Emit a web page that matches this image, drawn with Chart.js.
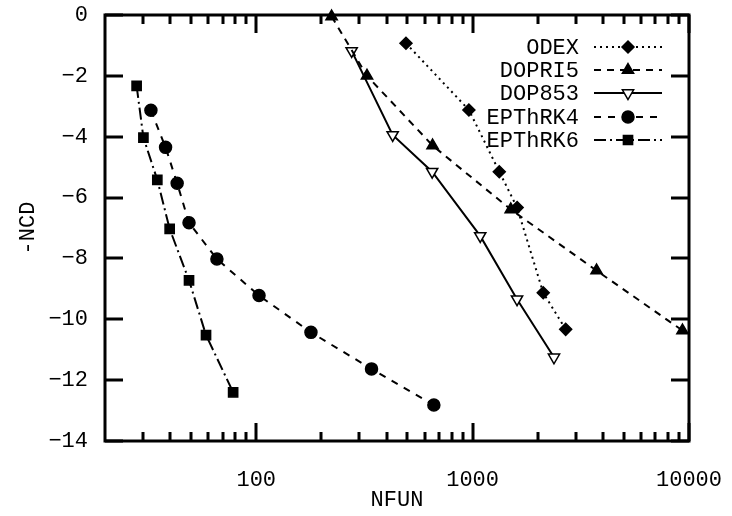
<!DOCTYPE html>
<html>
<head>
<meta charset="utf-8">
<script src="https://cdn.jsdelivr.net/npm/chart.js@4/dist/chart.umd.min.js"></script>
<style>
html,body{margin:0;padding:0;background:#fff;}
#wrap{width:732px;height:516px;}
</style>
</head>
<body>
<div id="wrap"><canvas id="c" width="732" height="516"></canvas></div>
<script>
// ---- data ----
const seriesNames = ['ODEX', 'DOPRI5', 'DOP853', 'EPThRK4', 'EPThRK6'];
const odexX   = [492, 961, 1328, 1606, 2120, 2692];
const odexY   = [-0.93, -3.12, -5.15, -6.33, -9.13, -10.33];
const dopri5X = [223, 325, 653, 1500, 3740, 9330];
const dopri5Y = [-0.05, -2.0, -4.29, -6.39, -8.4, -10.37];
const dop853X = [276, 427, 650, 1084, 1604, 2377];
const dop853Y = [-1.18, -3.94, -5.15, -7.26, -9.34, -11.25];
const rk4X    = [32.6, 38.1, 43.1, 48.9, 65.8, 103, 179, 341, 662];
const rk4Y    = [-3.13, -4.35, -5.53, -6.83, -8.02, -9.22, -10.43, -11.63, -12.82];
const rk6X    = [28.0, 30.1, 34.9, 39.8, 48.9, 58.6, 78.2];
const rk6Y    = [-2.33, -4.03, -5.42, -7.03, -8.72, -10.52, -12.40];
const xMajorTicks = [100, 1000, 10000];
const xMinorTicks = [30, 40, 50, 60, 70, 80, 90, 200, 300, 400, 500, 600, 700, 800, 900, 2000, 3000, 4000, 5000, 6000, 7000, 8000, 9000];
const yTicks = [0, -2, -4, -6, -8, -10, -12, -14];
const xTitle = 'NFUN';
const yTitle = '-NCD';

const FONT = '"Liberation Mono", "DejaVu Sans Mono", monospace';

function pts(xs, ys) { return xs.map((x, i) => ({x: x, y: ys[i]})); }

function ds(label, xs, ys, dash, style, rot, fill) {
  return {
    label: label,
    data: pts(xs, ys),
    borderColor: '#000',
    borderWidth: 2,
    borderDash: dash,
    pointStyle: style,
    pointRotation: rot,
    pointRadius: style === 'rectRot' ? 6 : (style === 'circle' ? 6 : 6.5),
    pointBackgroundColor: fill,
    pointBorderColor: '#000',
    pointBorderWidth: 1.5,
    tension: 0,
    fill: false,
    clip: false
  };
}

const datasets = [
  ds(seriesNames[0], odexX, odexY, [2, 4], 'rectRot', 0, '#000'),
  ds(seriesNames[1], dopri5X, dopri5Y, [7, 6], 'triangle', 0, '#000'),
  ds(seriesNames[2], dop853X, dop853Y, [], 'triangle', 180, '#fff'),
  ds(seriesNames[3], rk4X, rk4Y, [7, 7], 'circle', 0, '#000'),
  ds(seriesNames[4], rk6X, rk6Y, [12, 4, 2, 4], 'rect', 0, '#000')
];

const framePlugin = {
  id: 'frame',
  afterDraw(chart) {
    const ctx = chart.ctx;
    const a = chart.chartArea;
    const xs = chart.scales.x, ys = chart.scales.y;
    ctx.save();
    ctx.strokeStyle = '#000';
    ctx.lineCap = 'butt';
    function vt(v, len, w) {
      const px = Math.round(xs.getPixelForValue(v));
      ctx.lineWidth = w;
      ctx.beginPath();
      ctx.moveTo(px, a.bottom); ctx.lineTo(px, a.bottom - len);
      ctx.moveTo(px, a.top); ctx.lineTo(px, a.top + len);
      ctx.stroke();
    }
    xMinorTicks.forEach(v => vt(v, 9, 3));
    xMajorTicks.forEach(v => vt(v, 18, 3));
    yTicks.forEach(v => {
      const py = Math.round(ys.getPixelForValue(v));
      ctx.lineWidth = 3;
      ctx.beginPath();
      ctx.moveTo(a.left, py); ctx.lineTo(a.left + 18, py);
      ctx.moveTo(a.right, py); ctx.lineTo(a.right - 18, py);
      ctx.stroke();
    });
    ctx.lineWidth = 3;
    ctx.strokeRect(a.left, a.top, a.right - a.left, a.bottom - a.top);

    ctx.fillStyle = '#000';
    ctx.font = '22px ' + FONT;
    ctx.textAlign = 'center';
    ctx.textBaseline = 'middle';
    ctx.fillText(xTitle, (a.left + a.right) / 2, 500);
    ctx.save();
    ctx.translate(28, (a.top + a.bottom) / 2);
    ctx.rotate(-Math.PI / 2);
    ctx.fillText(yTitle, 0, 0);
    ctx.restore();

    const textRight = 579, lineL = 594, lineR = 662, mark = 628;
    const rowY = [47, 70, 93, 117, 140];
    chart.data.datasets.forEach((d, i) => {
      const y = rowY[i];
      ctx.fillStyle = '#000';
      ctx.textAlign = 'right';
      ctx.textBaseline = 'middle';
      ctx.fillText(d.label, textRight, y + 1);
      ctx.lineWidth = d.borderWidth;
      ctx.setLineDash(d.borderDash);
      ctx.beginPath();
      ctx.moveTo(lineL, y); ctx.lineTo(lineR, y);
      ctx.stroke();
      ctx.setLineDash([]);
      ctx.fillStyle = d.pointBackgroundColor;
      ctx.lineWidth = d.pointBorderWidth;
      Chart.helpers.drawPoint(ctx, {
        pointStyle: d.pointStyle,
        rotation: d.pointRotation,
        radius: d.pointRadius,
        borderWidth: d.pointBorderWidth
      }, mark, y);
    });
    ctx.restore();
  }
};

new Chart(document.getElementById('c'), {
  type: 'line',
  data: { datasets: datasets },
  options: {
    responsive: false,
    animation: false,
    devicePixelRatio: 1,
    layout: { padding: { left: 0, top: 15, right: 43, bottom: 0 } },
    plugins: { legend: { display: false }, tooltip: { enabled: false } },
    scales: {
      x: {
        type: 'logarithmic',
        min: 20, max: 10000,
        afterBuildTicks(s) { s.ticks = xMajorTicks.map(v => ({value: v})); },
        afterFit(s) { s.height = 75; s.paddingLeft = 0; s.paddingRight = 0; },
        grid: { display: false, drawTicks: false },
        border: { display: false },
        ticks: {
          autoSkip: false, maxRotation: 0, padding: 26,
          color: '#000', font: { family: FONT, size: 22 },
          callback: v => String(v)
        }
      },
      y: {
        type: 'linear',
        min: -14, max: 0,
        afterBuildTicks(s) { s.ticks = yTicks.map(v => ({value: v})); },
        afterFit(s) { s.width = 105; s.paddingTop = 0; s.paddingBottom = 0; },
        grid: { display: false, drawTicks: false },
        border: { display: false },
        ticks: {
          padding: 17,
          color: '#000', font: { family: FONT, size: 22 },
          callback: v => v < 0 ? '\u2212' + Math.abs(v) : String(v)
        }
      }
    }
  },
  plugins: [framePlugin]
});
</script>
</body>
</html>
